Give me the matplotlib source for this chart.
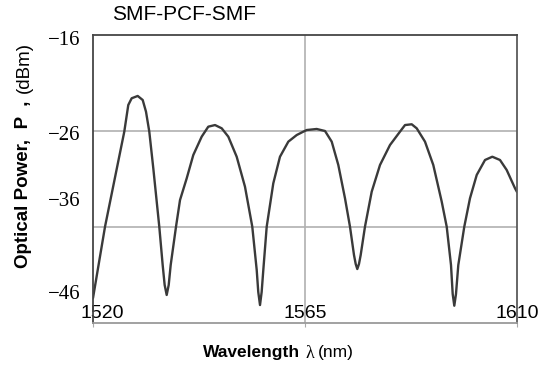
import matplotlib

matplotlib.use("Agg")
import matplotlib.pyplot as plt
from matplotlib.transforms import ScaledTranslation

# spectrum (nm, dBm)
wavelength = [1520.00, 1522.55, 1526.64, 1527.49, 1528.21, 1529.49, 1530.55, 1531.25,
              1531.95, 1532.80, 1534.07, 1534.79, 1535.21, 1535.64, 1536.07, 1536.49,
              1537.62, 1538.47, 1539.89, 1541.29, 1543.07, 1544.47, 1545.90, 1547.32,
              1548.72, 1550.50, 1552.26, 1553.81, 1554.75, 1555.08, 1555.45, 1555.80,
              1556.15, 1556.87, 1558.27, 1559.69, 1561.46, 1563.24, 1564.64, 1565.36,
              1567.48, 1569.25, 1570.67, 1572.07, 1573.49, 1574.55, 1575.40, 1575.76,
              1576.10, 1576.46, 1576.82, 1577.73, 1579.16, 1580.92, 1583.04, 1585.16,
              1586.23, 1587.65, 1588.71, 1590.47, 1592.23, 1594.02, 1595.08, 1595.99,
              1596.35, 1596.69, 1597.05, 1597.54, 1598.81, 1600.02, 1601.45, 1603.21,
              1604.76, 1606.39, 1607.81, 1609.58, 1610.00]
power = [-43.40, -35.97, -26.07, -23.29, -22.59, -22.35, -22.77, -23.99,
         -26.07, -29.89, -35.97, -39.96, -42.04, -43.08, -42.04, -39.96,
         -35.97, -33.19, -30.93, -28.50, -26.59, -25.55, -25.38, -25.72,
         -26.59, -28.68, -31.80, -35.97, -40.48, -42.77, -44.13, -42.77,
         -40.48, -35.97, -31.45, -28.68, -27.11, -26.42, -26.07, -25.90,
         -25.79, -26.00, -27.11, -29.54, -33.01, -35.97, -38.92, -39.85,
         -40.38, -39.85, -38.92, -35.97, -32.32, -29.54, -27.46, -26.07,
         -25.38, -25.30, -25.72, -27.11, -29.54, -33.36, -35.97, -39.96,
         -42.98, -44.20, -42.98, -39.96, -35.97, -33.01, -30.58, -29.02,
         -28.68, -29.02, -30.06, -31.97, -32.35]

xticks = [1520, 1565, 1610]
yticks = [-16, -26, -36, -46]
ytick_labels = ["\u221216", "\u221226", "\u221236", "\u221246"]
ytick_shift_px = [-3, -2, 28, 31]  # labels in the source sit off their gridlines
xtick_shift_px = [9, 0, 0]

SANS = "Liberation Sans"
SERIF = "Liberation Serif"

fig = plt.figure(figsize=(5.51, 3.72), dpi=100)
ax = fig.add_axes([93 / 551, 1 - 323 / 372, 424 / 551, 288 / 372])

ax.plot(wavelength, power, color="#3a3a3a", lw=1.7,
        solid_joinstyle="round", solid_capstyle="round")

ax.set_xlim(1520, 1610)
ax.set_ylim(-46, -16)
ax.set_xticks(xticks)
ax.set_yticks(yticks)
ax.set_xticklabels([str(t) for t in xticks], fontsize=14, family=SANS)
ax.set_yticklabels(ytick_labels, fontsize=15, family=SERIF)

ax.tick_params(axis="y", length=0, pad=9)
ax.tick_params(axis="x", length=3, color="#aaaaaa", direction="out", pad=-4)
for lbl in ax.get_xticklabels():
    lbl.set_va("bottom")

for lbl, d in zip(ax.get_yticklabels(), ytick_shift_px):
    lbl.set_transform(lbl.get_transform() + ScaledTranslation(0, d / 100, fig.dpi_scale_trans))
for lbl, d in zip(ax.get_xticklabels(), xtick_shift_px):
    lbl.set_transform(lbl.get_transform() + ScaledTranslation(d / 100, 0, fig.dpi_scale_trans))

for y in (-26, -36):
    ax.axhline(y, color="#b0b0b0", lw=1.2, zorder=0)
ax.axvline(1565, color="#b0b0b0", lw=1.2, zorder=0)

ax.spines["top"].set_color("#454545")
ax.spines["left"].set_color("#454545")
ax.spines["right"].set_color("#5a5a5a")
ax.spines["bottom"].set_color("#9a9a9a")
for s in ax.spines.values():
    s.set_linewidth(1.3)

fig.text(184.5 / 551, 1 - 14 / 372, "SMF-PCF-SMF", fontsize=15, family=SANS,
         ha="center", va="center")

# y label: bold part + plain units
fig.text(24 / 551, 1 - 268 / 372, "Optical Power,  P  ,", fontsize=13.5, family=SANS,
         fontweight="bold", rotation=90, ha="center", va="bottom")
fig.text(24 / 551, 1 - 93 / 372, "(dBm)", fontsize=13.5, family=SANS,
         rotation=90, ha="center", va="bottom")

# x label
fig.text(300 / 551, 1 - 353 / 372, "Wavelength", fontsize=12.5, family=SANS,
         fontweight="bold", ha="right", va="center")
fig.text(305 / 551, 1 - 353 / 372, "\u03bb", fontsize=13, family=SERIF,
         ha="left", va="center")
fig.text(318 / 551, 1 - 353 / 372, "(nm)", fontsize=12.5, family=SANS,
         ha="left", va="center")

fig.savefig("out.png", dpi=100)
